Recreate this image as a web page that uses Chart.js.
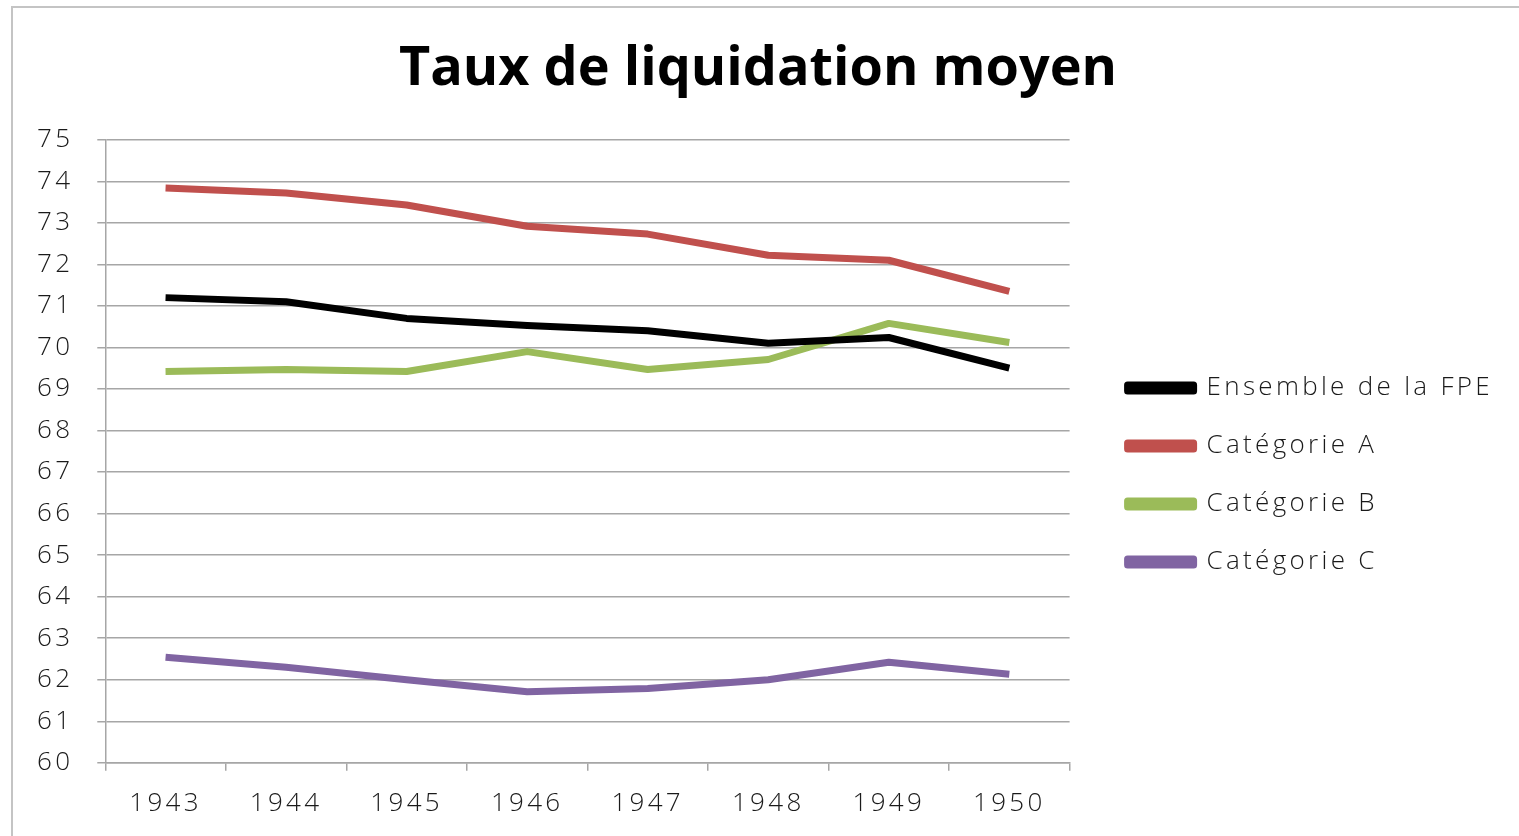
<!DOCTYPE html>
<html>
<head>
<meta charset="utf-8">
<script src="https://cdn.jsdelivr.net/npm/chart.js@4.4.1/dist/chart.umd.min.js"></script>
<style>
  html, body { margin: 0; padding: 0; background: #fff; overflow: hidden; }
  #wrap { position: relative; width: 1519px; height: 836px; }
  #frame { position: absolute; left: 11px; top: 6px; width: 1600px; height: 1000px; border: 2px solid #c4c4c4; box-sizing: border-box; pointer-events: none; }
  canvas { position: absolute; left: 0; top: 0; }
</style>
</head>
<body>
<div id="wrap">
  <canvas id="c" width="1519" height="836"></canvas>
  <div id="frame"></div>
</div>
<script>
const years = ['1943', '1944', '1945', '1946', '1947', '1948', '1949', '1950'];
const ensembleFPE = [71.2, 71.1, 70.7, 70.53, 70.4, 70.1, 70.24, 69.5];
const categorieA = [73.84, 73.72, 73.43, 72.92, 72.73, 72.22, 72.1, 71.35];
const categorieB = [69.42, 69.47, 69.42, 69.9, 69.47, 69.71, 70.58, 70.12];
const categorieC = [62.54, 62.3, 62.0, 61.71, 61.79, 62.0, 62.42, 62.13];
const seriesNames = ['Ensemble de la FPE', 'Catégorie A', 'Catégorie B', 'Catégorie C'];
const seriesColors = ['#000000', '#C0504D', '#9BBB59', '#8064A2'];
const titleText = 'Taux de liquidation moyen';
const yMin = 60, yMax = 75, yStep = 1;

const textFont = "'Open Sans', 'DejaVu Sans', sans-serif";
const gridColor = '#a6a6a6';
const spacing = '3.3px';

const spacingPlugin = {
  id: 'spacing',
  beforeLayout(chart) { chart.ctx.letterSpacing = spacing; },
  beforeDraw(chart) {
    chart.ctx.letterSpacing = spacing;
    const tb = chart.titleBlock;
    if (tb && !tb._patched) {
      const orig = tb.draw.bind(tb);
      tb.draw = function () {
        const c = this.ctx; const prev = c.letterSpacing;
        c.letterSpacing = '0px'; orig(); c.letterSpacing = prev;
      };
      tb._patched = true;
    }
  }
};

const allSeries = [ensembleFPE, categorieA, categorieB, categorieC];
const datasets = allSeries.map((vals, i) => ({
  label: seriesNames[i],
  data: vals,
  borderColor: seriesColors[i],
  backgroundColor: seriesColors[i],
  borderWidth: 7,
  pointRadius: 0,
  pointHoverRadius: 0,
  tension: 0,
  borderJoinStyle: 'round',
  borderCapStyle: 'butt',
  fill: false
}));

new Chart(document.getElementById('c'), {
  type: 'line',
  data: { labels: years, datasets },
  plugins: [spacingPlugin],
  options: {
    responsive: false,
    animation: false,
    events: [],
    layout: { padding: { left: 13, right: 16, top: 0, bottom: 0 } },
    plugins: {
      tooltip: { enabled: false },
      title: {
        display: true,
        text: titleText,
        color: '#000',
        font: { family: "'Open Sans', sans-serif", size: 54, weight: '700', lineHeight: 1.2 },
        padding: { top: 37, bottom: 38 }
      },
      legend: {
        display: true,
        position: 'right',
        align: 'center',
        maxWidth: 600,
        title: { display: true, text: ' ', font: { size: 10, lineHeight: 1 }, padding: { top: 104, bottom: 0 } },
        labels: {
          color: '#1a1a1a',
          font: { family: textFont, size: 26, weight: '300' },
          boxWidth: 66,
          boxHeight: 6,
          padding: 32
        }
      }
    },
    scales: {
      x: {
        type: 'category',
        offset: true,
        grid: { display: true, drawOnChartArea: false, drawTicks: true, tickLength: 8, color: gridColor, lineWidth: 1.5, offset: true },
        border: { display: true, color: gridColor, width: 1.5 },
        ticks: { color: '#1a1a1a', font: { family: textFont, size: 26, weight: '300' }, padding: 17, maxRotation: 0 }
      },
      y: {
        type: 'linear',
        min: yMin,
        max: yMax,
        grid: { color: gridColor, lineWidth: 1.5, tickLength: 8 },
        border: { display: true, color: gridColor, width: 1.5 },
        ticks: { stepSize: yStep, color: '#1a1a1a', font: { family: textFont, size: 26, weight: '300' }, padding: 24 }
      },
      gap: {
        type: 'linear',
        position: 'right',
        display: true,
        grid: { display: false, drawOnChartArea: false },
        border: { display: false },
        ticks: { display: false },
        afterFit(scale) { scale.width = 26; }
      }
    }
  }
});
</script>
</body>
</html>
